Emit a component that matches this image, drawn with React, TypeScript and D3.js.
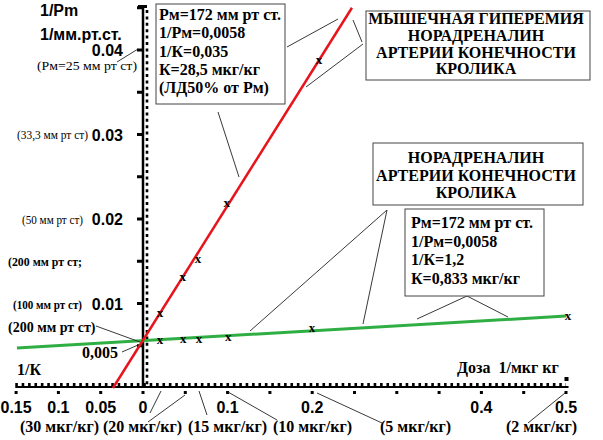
import React from "react";
import * as d3 from "d3";

// 1/доза (1/мкг·кг) and 1/Pm readings
const redDose = [0.0201, 0.0469, 0.065, 0.099, 0.208];
const redInvPm = [0.00888, 0.01317, 0.01527, 0.02189, 0.0388];
const redFitDose = [-0.0355, 0.247];
const redFitInvPm = [0, 0.045];

const greenDose = [0.0201, 0.0476, 0.0662, 0.1008, 0.1998, 0.5024];
const greenInvPm = [0.00568, 0.0058, 0.00576, 0.00607, 0.0071, 0.00856];
const greenFitDose = [-0.149, 0.5];
const greenFitInvPm = [0.00473, 0.00852];

const xTickValues = [-0.15, -0.1, -0.05, 0, 0.1, 0.2, 0.4, 0.5];
const xTickLabels = ["0.15", "0.1", "0.05", "0", "0.1", "0.2", "0.4", "0.5"];
const yTickValues = [0.04, 0.03, 0.02, 0.01];
const yTickLabels = ["0.04", "0.03", "0.02", "0.01"];

const pmLabels = ["(Рм=25 мм рт ст)", "(33,3 мм рт ст)", "(50 мм рт ст)", "(200 мм рт ст;", "(100 мм рт ст)"];
const doseLabels = ["(30 мкг/кг)", "(20 мкг/кг)", "(15 мкг/кг)", "(10 мкг/кг)", "(5 мкг/кг)", "(2 мкг/кг)"];
const redBoxLines = ["Рм=172 мм рт ст.", "1/Рм=0,0058", "1/К=0,035", "К=28,5 мкг/кг", "(ЛД50% от Рм)"];
const greenBoxLines = ["Рм=172 мм рт ст.", "1/Рм=0,0058", "1/К=1,2", "К=0,833 мкг/кг"];
const redTitle = ["МЫШЕЧНАЯ ГИПЕРЕМИЯ", "НОРАДРЕНАЛИН", "АРТЕРИИ КОНЕЧНОСТИ", "КРОЛИКА"];
const greenTitle = ["НОРАДРЕНАЛИН", "АРТЕРИИ КОНЕЧНОСТИ", "КРОЛИКА"];

const SANS = "'Liberation Sans', Arial, sans-serif";
const SERIF = "'Liberation Serif', 'Times New Roman', serif";
const RED = "#e8141c";
const GREEN = "#2fae44";

export default function App() {
  const x = d3.scaleLinear().domain([0, 0.5]).range([143, 566]);
  const y = d3.scaleLinear().domain([0, 0.04]).range([388, 50]);
  const line = d3.line<[number, number]>().x(d => x(d[0])).y(d => y(d[1]));

  const redFit = d3.zip(redFitDose, redFitInvPm) as [number, number][];
  const greenFit = d3.zip(greenFitDose, greenFitInvPm) as [number, number][];
  const x0 = x(0);
  const y0 = y(0);
  const yMajor = d3.range(0.005, 0.0451, 0.005);
  const xMajor = d3.range(-0.15, 0.501, 0.05);

  const leaders: [number, number, number, number][] = [
    [117, 62, 138, 49],
    [218, 112, 239, 177],
    [287, 47, 338, 19],
    [353, 20, 362, 42],
    [306, 87, 363, 44],
    [387, 210, 250, 331],
    [387, 210, 363, 324],
    [467, 296, 417, 319],
    [467, 296, 508, 317],
    [96, 326, 140, 342],
    [122, 352, 138, 345],
    [161, 391, 150, 413],
    [185, 395, 148, 422],
    [199, 391, 207, 415],
    [228, 392, 277, 420],
    [317, 393, 382, 423],
    [565, 393, 528, 423],
  ];

  return (
    <svg width={603} height={440} style={{ position: "absolute", left: 0, top: 0, background: "#fff" }}>
      {/* y axis */}
      <line x1={x0} x2={x0} y1={7} y2={y0} stroke="#000" strokeWidth={2.5} />
      <line x1={x0 + 4} x2={x0 + 4} y1={10} y2={y0} stroke="#000" strokeWidth={2.6} strokeDasharray="3 3.4" />
      <rect x={x0 - 5} y={5} width={9} height={3} fill="#000" />
      {yMajor.map(v => (
        <rect key={v} x={x0 - 6} y={y(v) - 1.5} width={6} height={3} fill="#000" />
      ))}
      {/* x axis */}
      <line x1={x(-0.151)} x2={x(0.503)} y1={y0 - 1} y2={y0 - 1} stroke="#000" strokeWidth={2} />
      <line x1={x(-0.151)} x2={x(0.5)} y1={y0 - 3.5} y2={y0 - 3.5} stroke="#000" strokeWidth={3} strokeDasharray="2.6 3.8" />
      <rect x={x(0.5) - 1.5} y={y0 - 11} width={4} height={4} fill="#000" />
      {xMajor.map(v => (
        <rect key={v} x={x(v) - 1.5} y={y0 + 3} width={3} height={3} fill="#000" />
      ))}

      {/* fitted lines */}
      <path d={line(greenFit) || ""} stroke={GREEN} strokeWidth={3} fill="none" />
      <path d={line(redFit) || ""} stroke={RED} strokeWidth={2.5} fill="none" />

      {/* measured points */}
      {redDose.map((d, i) => (
        <text key={"r" + i} x={x(d)} y={y(redInvPm[i]) + 4} textAnchor="middle" fontFamily={SERIF} fontWeight="bold" fontSize={13}>x</text>
      ))}
      {greenDose.map((d, i) => (
        <text key={"g" + i} x={x(d)} y={y(greenInvPm[i]) + 4} textAnchor="middle" fontFamily={SERIF} fontWeight="bold" fontSize={13}>x</text>
      ))}

      {/* leader lines */}
      {leaders.map((l, i) => (
        <line key={"l" + i} x1={l[0]} y1={l[1]} x2={l[2]} y2={l[3]} stroke="#222" strokeWidth={0.9} />
      ))}

      {/* tick labels */}
      {xTickValues.map((v, i) => (
        <text key={"xt" + i} x={x(v)} y={413} textAnchor="middle" fontFamily={SANS} fontWeight="bold" fontSize={16}>{xTickLabels[i]}</text>
      ))}
      {yTickValues.map((v, i) => (
        <text key={"yt" + i} x={123} y={y(v) + 6} textAnchor="end" fontFamily={SANS} fontWeight="bold" fontSize={16}>{yTickLabels[i]}</text>
      ))}

      {/* axis titles */}
      <text x={40} y={16} fontFamily={SANS} fontWeight="bold" fontSize={16}>1/Pm</text>
      <text x={40} y={40} fontFamily={SANS} fontWeight="bold" fontSize={16}>1/мм.рт.ст.</text>
      <text x={17} y={375} fontFamily={SERIF} fontWeight="bold" fontSize={16}>1/К</text>
      <text x={457} y={373} fontFamily={SERIF} fontWeight="bold" fontSize={16}>{"Доза\u00a0 1/мкг кг"}</text>
      <text x={82} y={358} fontFamily={SERIF} fontWeight="bold" fontSize={16}>0,005</text>

      {/* Pm labels */}
      <text x={37} y={70} fontFamily={SERIF} fontSize={13} textLength={100} lengthAdjust="spacingAndGlyphs">{pmLabels[0]}</text>
      <text x={17} y={139} fontFamily={SERIF} fontSize={12} textLength={71} lengthAdjust="spacingAndGlyphs">{pmLabels[1]}</text>
      <text x={22} y={224} fontFamily={SERIF} fontSize={12} textLength={61} lengthAdjust="spacingAndGlyphs">{pmLabels[2]}</text>
      <text x={8} y={266} fontFamily={SERIF} fontWeight="bold" fontSize={13} textLength={74} lengthAdjust="spacingAndGlyphs">{pmLabels[3]}</text>
      <text x={13} y={309} fontFamily={SERIF} fontWeight="bold" fontSize={12} textLength={69} lengthAdjust="spacingAndGlyphs">{pmLabels[4]}</text>
      <text x={8} y={332} fontFamily={SERIF} fontWeight="bold" fontSize={14}>(200 мм рт ст)</text>

      {/* dose labels */}
      {[20, 103, 188, 273, 380, 506].map((px, i) => (
        <text key={"dl" + i} x={px} y={432} fontFamily={SERIF} fontWeight="bold" fontSize={16}>{doseLabels[i]}</text>
      ))}

      {/* red parameter box */}
      <rect x={156} y={4} width={129} height={100} fill="#fff" stroke="#444" strokeWidth={1} />
      {redBoxLines.map((t, i) => (
        <text key={"rb" + i} x={159} y={20 + i * 18.3} fontFamily={SERIF} fontWeight="bold" fontSize={16}>{t}</text>
      ))}

      {/* red title box */}
      <rect x={366} y={11} width={224} height={69} fill="#fff" stroke="#444" strokeWidth={1} />
      {redTitle.map((t, i) => (
        <text key={"rt" + i} x={476} y={24 + i * 16.8} textAnchor="middle" fontFamily={SERIF} fontWeight="bold" fontSize={16}>{t}</text>
      ))}

      {/* green title box */}
      <rect x={373} y={143} width={210} height={62} fill="#fff" stroke="#444" strokeWidth={1} />
      {greenTitle.map((t, i) => (
        <text key={"gt" + i} x={476} y={163 + i * 17.5} textAnchor="middle" fontFamily={SERIF} fontWeight="bold" fontSize={16}>{t}</text>
      ))}

      {/* green parameter box */}
      <rect x={405} y={209} width={139} height={87} fill="#fff" stroke="#444" strokeWidth={1} />
      {greenBoxLines.map((t, i) => (
        <text key={"gb" + i} x={411} y={228 + i * 18.5} fontFamily={SERIF} fontWeight="bold" fontSize={16}>{t}</text>
      ))}
    </svg>
  );
}
